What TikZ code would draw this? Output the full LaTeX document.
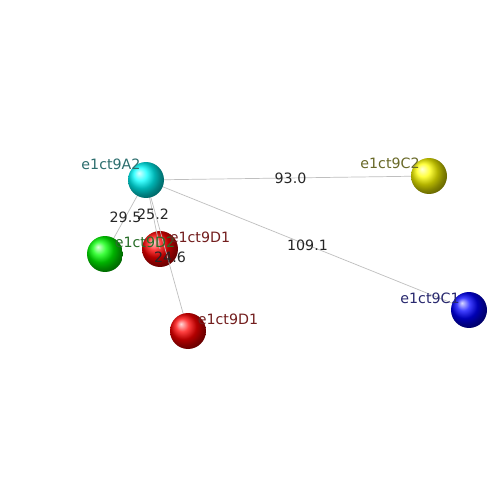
\documentclass[tikz,border=0pt]{standalone}
\usepackage{fontspec}
\setmainfont{DejaVu Sans}
\usetikzlibrary{backgrounds}
\pgfdeclarelayer{front}
\pgfsetlayers{background,main,front}

\definecolor{lblteal}{RGB}{45,110,110}
\definecolor{lblolive}{RGB}{105,105,40}
\definecolor{lblnavy}{RGB}{40,40,110}
\definecolor{lblgreen}{RGB}{40,110,40}
\definecolor{lblred}{RGB}{115,30,30}

\begin{document}
\begin{tikzpicture}[x=0.02cm, y=-0.02cm,
  atom/.style={circle, minimum size=0.72cm, inner sep=0pt, shade, ball color=#1},
  bond/.style={draw=black!25, line width=0.4pt},
  dist/.style={font=\fontsize{8.1}{9}\selectfont, text=black!85, inner sep=1pt},
  lbl/.style={font=\fontsize{8.1}{9}\selectfont, text=#1, inner sep=0pt}
]
\useasboundingbox (0,0) rectangle (500,500);

% atoms in front of the bonds
\begin{pgfonlayer}{front}
\node[atom=cyan] (a2) at (146,180) {};
\node[atom=red] (d1b) at (188,331) {};
\end{pgfonlayer}
\node[atom=yellow] (c2) at (429,176) {};
\node[atom=blue] (c1) at (469,310) {};
\node[atom=green] (d2) at (105,254) {};
\node[atom=red] (d1a) at (160,249) {};

% bonds with distances
\begin{pgfonlayer}{background}
\fill[white] (0,0) rectangle (500,500);
\draw[bond] (a2.center) -- node[dist, xshift=0.06cm]{93.0} (c2.center);
\draw[bond] (a2.center) -- node[dist]{109.1} (c1.center);
\draw[bond] (a2.center) -- node[dist]{29.5} (d2.center);
\end{pgfonlayer}
\draw[bond] (a2.center) -- node[dist]{25.2} (d1a.center);
\draw[bond] (a2.center) -- node[dist, xshift=0.06cm, yshift=-0.04cm]{24.6} (d1b.center);

% names
\begin{pgfonlayer}{front}
\node[lbl=lblteal] (n-a2) at (111,164) {e1ct9A2};
\node[lbl=lblolive] (n-c2) at (390,163) {e1ct9C2};
\node[lbl=lblnavy] (n-c1) at (430,298) {e1ct9C1};
\node[lbl=lblgreen] (n-d2) at (145,242) {e1ct9D2};
\node[lbl=lblred] (n-d1a) at (200,237) {e1ct9D1};
\node[lbl=lblred] (n-d1b) at (228,319) {e1ct9D1};
\end{pgfonlayer}
\end{tikzpicture}
\end{document}
